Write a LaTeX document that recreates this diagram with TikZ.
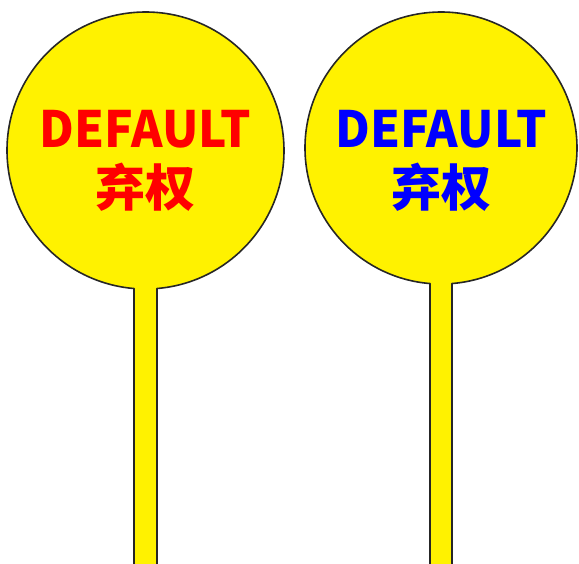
\documentclass[tikz,border=0pt]{standalone}
\usepackage{fontspec}
\newfontfamily\cjk{Noto Sans CJK SC}
\usepackage{tikz}
\usetikzlibrary{calc}
\tikzset{
  paddle/.style={fill=yellow, draw=black!85, line width=1.6pt, line join=round},
  sign/.style={font=\cjk\bfseries\fontsize{50}{50}\selectfont, inner sep=0pt, anchor=base},
  latin/.style={sign, xscale=0.955}
}

\begin{document}
\begin{tikzpicture}[x=1pt, y=-1pt]
\useasboundingbox (0,0) rectangle (579,563);

% Two paddles: round board plus handle, outline open where they join
\foreach \cx/\cy/\r/\hw/\col/\nm in {145.5/150.5/138.5/11.5/red/left, 441/148/136/11/blue/right}{
  \pgfmathsetmacro\ang{asin(\hw/\r)}
  \path[paddle] (\cx+\hw,566) -- ($(\cx,\cy)+(90-\ang:\r)$)
    arc[start angle=90-\ang, end angle=-270+\ang, radius=\r] -- (\cx-\hw,566);
  \node[latin, text=\col] (\nm-en) at (\cx,147) {DEFAULT};
  \node[sign, text=\col] (\nm-zh) at (\cx,206) {弃权};
}

\end{tikzpicture}
\end{document}
